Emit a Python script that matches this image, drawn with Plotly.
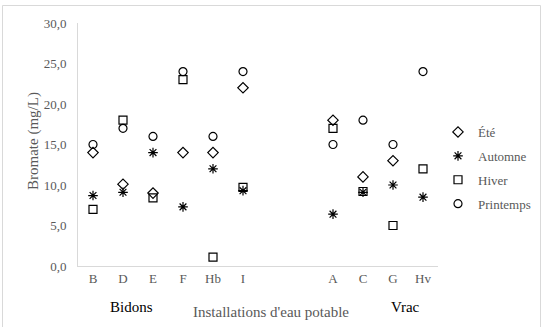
import plotly.graph_objects as go

categories = ["B", "D", "E", "F", "Hb", "I", "", "", "A", "C", "G", "Hv"]
positions = [0, 1, 2, 3, 4, 5, 8, 9, 10, 11]
sites = ["B", "D", "E", "F", "Hb", "I", "A", "C", "G", "Hv"]

ete = [14.0, 10.1, 9.0, 14.0, 14.0, 22.0, 18.0, 11.0, 13.0, None]
automne = [8.7, 9.1, 14.0, 7.3, 12.0, 9.3, 6.4, 9.1, 10.0, 8.5]
hiver = [7.0, 18.0, 8.4, 23.0, 1.1, 9.7, 17.0, 9.2, 5.0, 12.0]
printemps = [15.0, 17.0, 16.0, 24.0, 16.0, 24.0, 15.0, 18.0, 15.0, 24.0]

y_ticks = [0, 5, 10, 15, 20, 25, 30]
y_labels = ["0,0", "5,0", "10,0", "15,0", "20,0", "25,0", "30,0"]

FONT = "'Liberation Serif', 'Times New Roman', 'DejaVu Serif', serif"
GREY = "#595959"

series = [
    ("Été", ete, "diamond-open", 8),
    ("Automne", automne, "asterisk-open", 8),
    ("Hiver", hiver, "square-open", 8),
    ("Printemps", printemps, "circle-open", 8),
]

fig = go.Figure()
for i, (name, vals, sym, sz) in enumerate(series):
    fig.add_trace(go.Scatter(
        x=positions, y=vals, mode="markers", name=name,
        legendgroup=name,
        marker=dict(symbol=sym, size=sz, color="black",
                    line=dict(color="black", width=1.2)),
    ))

W, H = 543, 327
L, R, T, B = 78, 105, 23, 61
pw, ph = W - L - R, H - T - B

def px(x):
    return (x - L) / pw

def py(y):
    return (H - B - y) / ph

fig.update_layout(
    width=W, height=H,
    margin=dict(l=L, r=R, t=T, b=B, autoexpand=False),
    paper_bgcolor="white", plot_bgcolor="white",
    font=dict(family=FONT, size=13, color=GREY),
    showlegend=True,
    legend=dict(x=px(438), y=py(117), xanchor="left", yanchor="top",
                font=dict(family=FONT, size=13, color=GREY),
                tracegroupgap=4, itemwidth=30, bgcolor="rgba(0,0,0,0)"),
    xaxis=dict(
        range=[-0.5, 11.5], tickvals=list(range(12)), ticktext=categories,
        showgrid=False, zeroline=False, showline=True, linecolor="#d9d9d9",
        linewidth=1, ticks="", tickfont=dict(family=FONT, size=13, color=GREY),
        fixedrange=True, automargin=False,
    ),
    yaxis=dict(
        range=[0, 30], tickvals=y_ticks, ticktext=y_labels,
        showgrid=False, zeroline=False, showline=True, linecolor="#d9d9d9",
        linewidth=1, ticks="outside", ticklen=8, tickcolor="rgba(0,0,0,0)",
        tickfont=dict(family=FONT, size=13, color=GREY), automargin=False,
    ),
    annotations=[
        dict(text="Bromate (mg/L)", xref="paper", yref="paper", x=px(33), y=py(141),
             textangle=-90, showarrow=False, xanchor="center", yanchor="middle",
             font=dict(family=FONT, size=15, color=GREY)),
        dict(text="Installations d'eau potable", xref="paper", yref="paper",
             x=px(271), y=py(312), showarrow=False, xanchor="center", yanchor="middle",
             font=dict(family=FONT, size=15, color=GREY)),
        dict(text="Bidons", xref="paper", yref="paper", x=px(131), y=py(307),
             showarrow=False, xanchor="center", yanchor="middle",
             font=dict(family=FONT, size=15, color="black")),
        dict(text="Vrac", xref="paper", yref="paper", x=px(405), y=py(307),
             showarrow=False, xanchor="center", yanchor="middle",
             font=dict(family=FONT, size=15, color="black")),
    ],
    shapes=[
        dict(type="rect", xref="paper", yref="paper",
             x0=px(2.5), x1=px(540.5), y0=py(335), y1=py(5.5),
             line=dict(color="#d9d9d9", width=1), layer="below"),
    ],
)

fig.write_html("out.html")
